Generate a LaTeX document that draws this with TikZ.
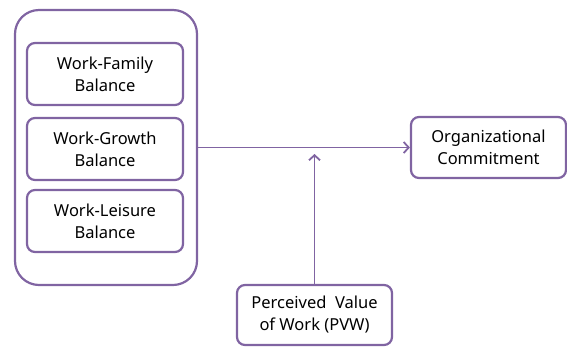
\documentclass[tikz,border=0pt]{standalone}
\usepackage{fontspec}
\setmainfont{Noto Sans}
\usetikzlibrary{arrows.meta}
\definecolor{lilac}{RGB}{128,100,162}

\begin{document}
\begin{tikzpicture}[x=1pt,y=-1pt,
    box/.style={draw=lilac,line width=2.2pt,rounded corners=8pt,align=center,
        inner sep=0pt,font=\fontsize{16.5}{22}\selectfont},
    link/.style={draw=lilac,line width=1.8pt,-{Straight Barb[length=5pt,width=11pt]}}]
    \useasboundingbox (0,0) rectangle (567,346);
    \node(grp)[box,rounded corners=24pt,minimum width=182pt,minimum height=275pt] at (106,147.5) {};
    \node(wfb)[box,minimum width=156pt,minimum height=62pt] at (105,74) {Work-Family\\Balance};
    \node(wgb)[box,minimum width=156pt,minimum height=62pt] at (105,149) {Work-Growth\\Balance};
    \node(wlb)[box,minimum width=156pt,minimum height=62pt] at (105,221) {Work-Leisure\\Balance};
    \node(oc)[box,minimum width=155pt,minimum height=61pt] at (488.5,147.5) {Organizational\\Commitment};
    \node(pvw)[box,minimum width=155pt,minimum height=60pt] at (314.5,315) {Perceived~ Value\\of Work (PVW)};
    \coordinate(mod) at (314.5,154);
    \draw[link] (grp) -- (oc);
    \draw[link] (pvw) -- (mod);
\end{tikzpicture}
\end{document}
